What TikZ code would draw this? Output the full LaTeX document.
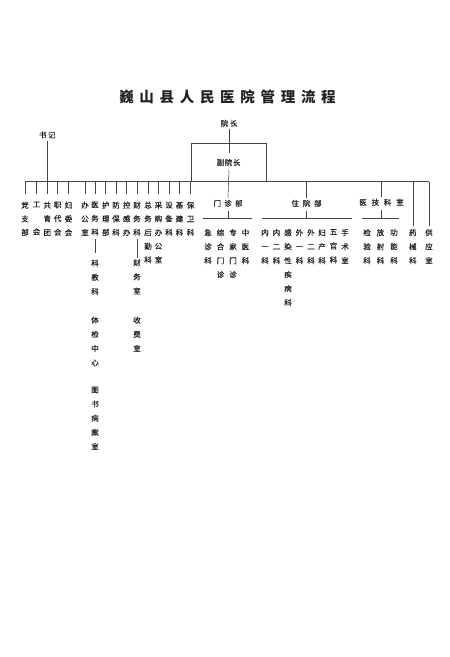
\documentclass[tikz,border=0pt]{standalone}
\usepackage{fontspec}
\newfontfamily\cjk[FakeBold=0.35]{Noto Sans CJK SC}
\newfontfamily\cjkt{Noto Sans CJK SC}
\definecolor{ink}{HTML}{222222}
\definecolor{lin}{HTML}{444444}
\tikzset{
  lab/.style={font=\cjk\fontsize{7.5}{9}\selectfont, inner sep=0pt, text=ink},
  col/.style={font=\cjk\fontsize{7.5}{13.7}\selectfont, align=center, inner sep=0pt, anchor=north, yshift=3.5pt, text=ink},
  colr/.style={col, font=\cjk\fontsize{7.5}{14}\selectfont},
  colc/.style={col, font=\cjk\fontsize{7.5}{14.2}\selectfont},
  ttl/.style={font=\cjkt\bfseries\fontsize{14.5}{16}\selectfont, inner sep=0pt, text=ink},
  conn/.style={draw=lin, line width=0.55pt},
  bossbox/.style={draw=lin, line width=0.55pt, minimum width=75pt, minimum height=38.4pt, inner sep=0pt,
    font=\cjk\fontsize{7.5}{9}\selectfont, text=ink}
}
\begin{document}
\begin{tikzpicture}[x=1pt,y=-1pt]
\fill[white] (0,0) rectangle (450,657);
\useasboundingbox (0,0) rectangle (450,657);

% title
\node[ttl] (title) at (227.5,96.7) {巍\kern5.7pt 山\kern5.7pt 县\kern5.7pt 人\kern5.7pt 民\kern5.7pt 医\kern5.7pt 院\kern5.7pt 管\kern5.7pt 理\kern5.7pt 流\kern5.7pt 程};

% top
\node[lab] (yz) at (229,123.3) {院\kern1.5pt 长};
\node[lab] (sj) at (47.3,135) {书\kern1.5pt 记};
\node[bossbox] (fyz) at (228.5,162.5) {副\kern0.6pt 院\kern0.6pt 长};

\coordinate (busL) at (25,181.7);
\coordinate (busR) at (429,181.7);
\coordinate (yzend) at (229,153);
\coordinate (fyzlow) at (229,170);

\draw[conn] (busL) -- (busR);
\draw[conn] ([yshift=-2pt]yz.south) -- (yzend);
\draw[conn] ([yshift=-2.5pt]sj.south) -- (sj.south |- busL);

% left columns
\node[col] (l1) at (25,205) {党\\支\\部};
\node[col] (l2) at (36.5,205) {工\\\mbox{}\\会};
\node[col] (l3) at (47.3,205) {共\\青\\团};
\node[col] (l4) at (57.7,205) {职\\代\\会};
\node[col] (l5) at (68.5,205) {妇\\委\\会};
\node[col] (l6) at (85,205) {办\\公\\室};
\node[col] (l7) at (95,205) {医\\务\\科};
\node[col] (l8) at (105.7,205) {护\\理\\部};
\node[col] (l9) at (116,205) {防\\保\\科};
\node[col] (l10) at (126.7,205) {控\\感\\办};
\node[col] (l11) at (137,205) {财\\务\\科};
\node[col] (l12) at (148,205) {总\\务\\后\\勤\\科};
\node[col] (l13) at (158.5,205) {采\\购\\办\\公\\室};
\node[col] (l14) at (169,205) {设\\备\\科};
\node[col] (l15) at (179.5,205) {基\\建\\科};
\node[col] (l16) at (190.5,205) {保\\卫\\科};
\foreach \n in {l1,l2,l3,l4,l5,l6,l7,l8,l9,l10,l11,l12,l13,l14,l15,l16}
  \draw[conn] (\n.north |- busL) -- ([yshift=8pt]\n.north);

% chains under 医务科 and 财务科
\node[colc] (ke) at (95,263) {科\\教\\科};
\node[colc] (tj) at (95,320) {体\\检\\中\\心};
\node[colc] (ts) at (95,390) {图\\书\\病\\案\\室};
\node[colc] (cw) at (137,262.5) {财\\务\\室};
\node[colc] (sf) at (137,320) {收\\费\\室};
\draw[conn] ([yshift=-3pt]l7.south) -- ([yshift=7pt]ke.north);
\draw[conn] ([yshift=-3pt]l11.south) -- ([yshift=1.5pt]cw.north);

% departments
\node[lab] (mz) at (228,203.3) {门\kern3.2pt 诊\kern3.2pt 部};
\node[lab] (zy) at (306.5,203.3) {住\kern3.8pt 院\kern3.8pt 部};
\node[lab] (yj) at (381.5,202.3) {医\kern4.8pt 技\kern4.8pt 科\kern4.8pt 室};
\draw[conn] (fyzlow) -- ([yshift=2pt]mz.north);
\draw[conn] (busL -| zy.north) -- ([yshift=2pt]zy.north);
\draw[conn] (busL -| yj.north) -- ([yshift=2pt]yj.north);

\coordinate (mzL) at (203,218);
\coordinate (mzR) at (252,218);
\coordinate (zyL) at (261.5,218);
\coordinate (zyR) at (352,218);
\coordinate (yjL) at (362,218);
\coordinate (yjR) at (399,218);
\draw[conn] (mzL) -- (mzR);
\draw[conn] (zyL) -- (zyR);
\draw[conn] (yjL) -- (yjR);
\draw[conn] ([yshift=-4.5pt]mz.south) -- (mz.south |- mzL);
\draw[conn] ([yshift=-4.5pt]zy.south) -- (zy.south |- zyL);
\draw[conn] ([yshift=-4.5pt]yj.south) -- (yj.south |- yjL);

\node[colr] (m1) at (208,232.5) {急\\诊\\科};
\node[colr] (m2) at (220.5,232.5) {综\\合\\门\\诊};
\node[colr] (m3) at (233,232.5) {专\\家\\门\\诊};
\node[colr] (m4) at (245.5,232.5) {中\\医\\科};

\node[colr] (z1) at (265,232.5) {内\\一\\科};
\node[colr] (z2) at (276.5,232.5) {内\\二\\科};
\node[colr] (z3) at (288,232.5) {感\\染\\性\\疾\\病\\科};
\node[colr] (z4) at (299.5,232.5) {外\\一\\科};
\node[colr] (z5) at (311,232.5) {外\\二\\科};
\node[colr] (z6) at (322,232.5) {妇\\产\\科};
\node[colr] (z7) at (333.5,232.5) {五\\官\\科};
\node[colr] (z8) at (345,232.5) {手\\术\\室};

\node[colr] (j1) at (367,232.5) {检\\验\\科};
\node[colr] (j2) at (380.5,232.5) {放\\射\\科};
\node[colr] (j3) at (394,232.5) {功\\能\\科};

\node[colr] (y1) at (412.8,232.5) {药\\械\\科};
\node[colr] (y2) at (429,232.5) {供\\应\\室};
\draw[conn] (busL -| y1.north) -- ([yshift=3.5pt]y1.north);
\draw[conn] (busR) -- ([yshift=3.5pt]y2.north);
\end{tikzpicture}
\end{document}
